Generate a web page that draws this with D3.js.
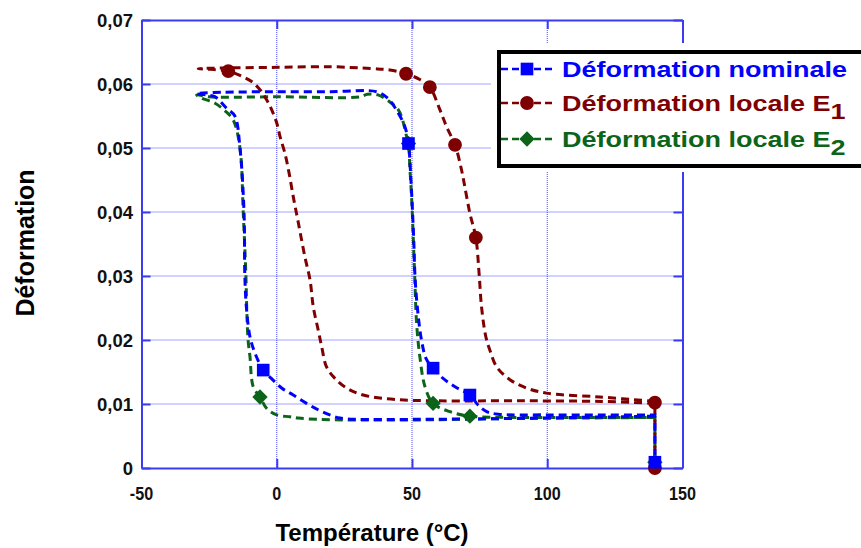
<!DOCTYPE html>
<html><head><meta charset="utf-8">
<script src="https://cdn.jsdelivr.net/npm/d3@7/dist/d3.min.js"></script>
<style>body{margin:0;background:#fff}svg{display:block}text{font-family:"Liberation Sans",Arial,sans-serif;font-weight:bold}</style>
</head><body><svg id="c" width="861" height="548"></svg>
<script>
// ---- data (temperature °C, strain) ----
const xTicks = [-50, 0, 50, 100, 150];
const yTicks = [0, 0.01, 0.02, 0.03, 0.04, 0.05, 0.06, 0.07];
const seriesNames = ["Déformation nominale", "Déformation locale E", "Déformation locale E"];
const seriesSubs = ["", "1", "2"];

const nominalLine = [[139.8,0.0081],[110,0.0079],[80,0.0077],[50,0.0076],[30,0.0076],[23.4,0.0078],[19.6,0.0083],[15.3,0.0091],[11,0.0101],[6.1,0.0114],[1.8,0.0125],[-2,0.014],[-5,0.0153],[-8,0.0179],[-9.9,0.0205],[-11.2,0.025],[-11.8,0.03],[-12.1,0.04],[-13.6,0.05],[-15.5,0.055],[-18.5,0.0562],[-22.8,0.058],[-25.9,0.0583],[-29.8,0.0585],[-20,0.0587],[0,0.0588],[20,0.0588],[36.9,0.0588],[41,0.0578],[44.3,0.0559],[47.4,0.0533],[48.7,0.0507],[49.6,0.045],[50.2,0.04],[50.7,0.035],[51.1,0.03],[52,0.025],[53.5,0.02],[55.3,0.017],[57.8,0.0156],[61.5,0.014],[65.9,0.0127],[71.4,0.0114],[74.5,0.0098],[77.6,0.0088],[82,0.0084],[100,0.0083],[120,0.0083],[139.8,0.0083],[139.8,0.0009]];
const nominalMarks = [[-5,0.0153],[48.7,0.0507],[57.8,0.0156],[71.4,0.0114],[139.8,0.0009]];

const localE1Line = [[139.8,0.0101],[120,0.0104],[90,0.0105],[60,0.0105],[44.3,0.0107],[32,0.0114],[25.8,0.0125],[21.5,0.014],[18.4,0.0158],[16.6,0.019],[15.3,0.0216],[13.5,0.0252],[12.3,0.0294],[10.4,0.033],[7.9,0.0385],[6.1,0.0424],[4.6,0.046],[3,0.0492],[1.2,0.0518],[0,0.0539],[-1.9,0.056],[-3.7,0.0575],[-6.2,0.0591],[-9.3,0.0604],[-12.4,0.0611],[-17.9,0.062],[-24.7,0.0623],[-29,0.0624],[-20,0.0625],[0,0.0626],[20,0.0627],[35,0.0624],[41.8,0.0622],[47.8,0.0616],[52.9,0.0607],[56.6,0.0595],[60.3,0.056],[62.8,0.0533],[65.9,0.0505],[68.3,0.0466],[69.5,0.044],[71.4,0.0398],[73.6,0.036],[74.8,0.0304],[75.7,0.0252],[77.3,0.0205],[78.8,0.0184],[81.3,0.0158],[86.2,0.0138],[92.3,0.0125],[99.7,0.0117],[119.4,0.0111],[139.8,0.0104],[139.8,0.0]];
const localE1Marks = [[-17.9,0.062],[47.8,0.0616],[56.6,0.0595],[65.9,0.0505],[73.6,0.036],[139.8,0.0102],[139.8,0.0]];

const localE2Line = [[139.8,0.0079],[110,0.0078],[80,0.0077],[50,0.0075],[30,0.0075],[15,0.0076],[8,0.0078],[4.9,0.008],[0,0.0083],[-3.7,0.0093],[-6.2,0.0111],[-8.7,0.0127],[-9.9,0.0174],[-10.6,0.02],[-11.1,0.025],[-11.4,0.03],[-12.4,0.04],[-13.6,0.05],[-16.1,0.0544],[-19.1,0.0558],[-22.8,0.057],[-27.8,0.0578],[-29.6,0.0583],[-25,0.058],[0,0.058],[30.7,0.058],[33.5,0.0584],[37.4,0.0583],[41.8,0.0572],[44.9,0.056],[46.7,0.0541],[48,0.0518],[48.7,0.0507],[49.2,0.047],[49.9,0.0419],[50.4,0.0367],[51,0.03],[51.7,0.0226],[52.9,0.0174],[54.8,0.0127],[57.8,0.0101],[64,0.0088],[71.4,0.0081],[90,0.0079],[120,0.0079],[139.8,0.0079],[139.8,0.0009]];
const localE2Marks = [[-6.2,0.0111],[48.7,0.0507],[57.8,0.0101],[71.4,0.0081],[139.8,0.0009]];

const colors = ["#0000ff", "#7f0000", "#0b6418"];

// ---- drawing ----
const svg = d3.select("#c");
const L = 141.5, R = 682.5, T = 20, B = 468;
const x = d3.scaleLinear().domain([-50, 150]).range([L, R]);
const y = d3.scaleLinear().domain([0, 0.07]).range([B, T]);
const frame = "#3b3bf2";

// marker drawer: square, circle, diamond (rotated square)
const symSquare = d3.symbol().type(d3.symbolSquare).size(160);
const symCircle = d3.symbol().type(d3.symbolCircle).size(150);
const symDiamond = d3.symbol().type(d3.symbolSquare).size(118);
const markD = [symSquare(), symCircle(), symDiamond()];
const markRot = [0, 0, 45];

// grid
svg.append("g").selectAll("line").data(xTicks.slice(1, -1)).join("line")
  .attr("x1", d => x(d)).attr("x2", d => x(d)).attr("y1", T).attr("y2", B)
  .attr("stroke", "#4a4aff").attr("stroke-width", 1).attr("stroke-dasharray", "1,1");
svg.append("g").selectAll("line").data(yTicks.slice(1, -1)).join("line")
  .attr("y1", d => y(d)).attr("y2", d => y(d)).attr("x1", L).attr("x2", R)
  .attr("stroke", "#4a4aff").attr("stroke-width", 1).attr("stroke-dasharray", "1,1");

// axes with inward ticks
const axB = svg.append("g").attr("transform", `translate(0,${B})`)
  .call(d3.axisBottom(x).tickValues(xTicks).tickSizeInner(-9).tickSizeOuter(0).tickFormat(""));
const axT = svg.append("g").attr("transform", `translate(0,${T})`)
  .call(d3.axisTop(x).tickValues(xTicks).tickSizeInner(-9).tickSizeOuter(0).tickFormat(""));
const axL = svg.append("g").attr("transform", `translate(${L},0)`)
  .call(d3.axisLeft(y).tickValues(yTicks).tickSizeInner(-9).tickSizeOuter(0).tickFormat(""));
const axR = svg.append("g").attr("transform", `translate(${R},0)`)
  .call(d3.axisRight(y).tickValues(yTicks).tickSizeInner(-9).tickSizeOuter(0).tickFormat(""));
[axB, axT, axL, axR].forEach(a => {
  a.selectAll("path.domain").attr("stroke", frame).attr("stroke-width", 2);
  a.selectAll(".tick line").attr("stroke", frame).attr("stroke-width", 2);
});

// tick labels
const fmt = d => d === 0 ? "0" : d3.format(".2f")(d).replace(".", ",");
svg.append("g").selectAll("text").data(yTicks).join("text")
  .attr("x", 133).attr("y", d => y(d)).attr("dy", "0.36em").attr("text-anchor", "end")
  .attr("font-size", 18.5).attr("fill", "#111").text(fmt);
svg.append("g").selectAll("text").data(xTicks).join("text")
  .attr("transform", d => `translate(${x(d)},500) scale(0.85,1)`).attr("text-anchor", "middle")
  .attr("font-size", 19).attr("fill", "#111").text(d => d);

// axis titles
svg.append("text").attr("transform", "translate(372,541)").attr("text-anchor", "middle")
  .attr("font-size", 24).attr("fill", "#000").text("Température (°C)");
svg.append("text").attr("transform", "translate(34,243) rotate(-90)").attr("text-anchor", "middle")
  .attr("font-size", 25).attr("fill", "#000").text("Déformation");

// series: smooth loop + straight final unloading drop
const smooth = d3.line().x(d => x(d[0])).y(d => y(d[1])).curve(d3.curveCatmullRom.alpha(0.5));
const lines = [nominalLine, localE1Line, localE2Line];
const marks = [nominalMarks, localE1Marks, localE2Marks];
const g = svg.append("g");
[2, 1, 0].forEach(i => {
  const pts = lines[i];
  const last = pts[pts.length - 1];
  g.append("path").attr("d", smooth(pts.slice(0, -1)) + `L${x(last[0])},${y(last[1])}`)
    .attr("fill", "none").attr("stroke", colors[i]).attr("stroke-width", 3).attr("stroke-dasharray", "8,5");
});
[2, 1, 0].forEach(i => {
  g.append("g").selectAll("path").data(marks[i]).join("path")
    .attr("transform", d => `translate(${x(d[0])},${y(d[1])}) rotate(${markRot[i]})`)
    .attr("d", markD[i]).attr("fill", colors[i]);
});

// legend
const lg = svg.append("g");
lg.append("rect").attr("x", 491).attr("y", 43).attr("width", 380).attr("height", 129).attr("fill", "#fff");
lg.append("rect").attr("x", 499).attr("y", 52).attr("width", 380).attr("height", 114)
  .attr("fill", "#fff").attr("stroke", "#000").attr("stroke-width", 4);
const rowsY = [69, 103, 139];
seriesNames.forEach((name, i) => {
  const yy = rowsY[i];
  lg.append("line").attr("x1", 501).attr("x2", 556).attr("y1", yy).attr("y2", yy)
    .attr("stroke", colors[i]).attr("stroke-width", 2.5).attr("stroke-dasharray", "7,4");
  lg.append("path").attr("transform", `translate(527,${yy}) rotate(${markRot[i]})`)
    .attr("d", markD[i]).attr("fill", colors[i]);
  const t = lg.append("text").attr("transform", `translate(562,${yy + 8}) scale(1.2,1)`)
    .attr("font-size", 22.5).attr("fill", colors[i]);
  t.append("tspan").text(name);
  if (seriesSubs[i]) t.append("tspan").attr("dy", 8).text(seriesSubs[i]);
});
</script></body></html>
